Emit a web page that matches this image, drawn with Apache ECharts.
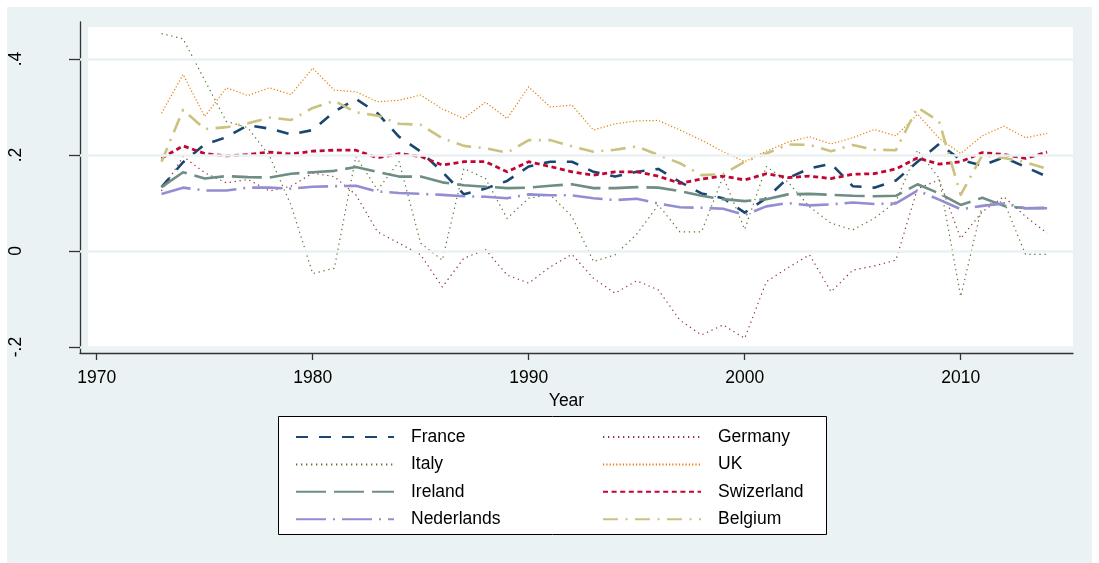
<!DOCTYPE html>
<html><head><meta charset="utf-8">
<script src="https://cdn.jsdelivr.net/npm/echarts@6/dist/echarts.min.js"></script>
<style>html,body{margin:0;padding:0;background:#fff}#c{width:1099px;height:563px}</style>
</head><body><div id="c"></div>
<script>
const years = [1973,1974,1975,1976,1977,1978,1979,1980,1981,1982,1983,1984,1985,1986,1987,1988,1989,1990,1991,1992,1993,1994,1995,1996,1997,1998,1999,2000,2001,2002,2003,2004,2005,2006,2007,2008,2009,2010,2011,2012,2013,2014];

const france = [0.133,0.185,0.222,0.237,0.262,0.255,0.243,0.252,0.29,0.317,0.287,0.238,0.207,0.165,0.118,0.13,0.146,0.176,0.186,0.186,0.165,0.155,0.165,0.171,0.144,0.12,0.11,0.08,0.11,0.152,0.172,0.182,0.135,0.132,0.147,0.186,0.223,0.19,0.178,0.195,0.175,0.155];
const germany = [0.125,0.197,0.163,0.142,0.149,0.125,0.135,0.162,0.155,0.117,0.04,0.016,-0.008,-0.075,-0.015,0.003,-0.05,-0.067,-0.033,-0.007,-0.057,-0.088,-0.062,-0.081,-0.144,-0.175,-0.154,-0.182,-0.064,-0.035,-0.008,-0.085,-0.04,-0.031,-0.019,0.13,0.148,0.026,0.082,0.113,0.072,0.037];
const italy = [0.453,0.442,0.356,0.27,0.257,0.198,0.095,-0.047,-0.036,0.197,0.127,0.186,0.016,-0.019,0.172,0.151,0.068,0.11,0.117,0.072,-0.022,-0.008,0.035,0.096,0.04,0.04,0.155,0.045,0.176,0.144,0.092,0.058,0.044,0.068,0.103,0.21,0.152,-0.095,0.096,0.103,-0.007,-0.007];
const uk = [0.287,0.368,0.28,0.34,0.324,0.34,0.326,0.381,0.335,0.332,0.311,0.314,0.325,0.296,0.276,0.31,0.276,0.342,0.3,0.304,0.252,0.265,0.271,0.272,0.252,0.231,0.207,0.186,0.208,0.227,0.238,0.223,0.236,0.253,0.24,0.285,0.235,0.203,0.24,0.26,0.236,0.245];
const ireland = [0.133,0.164,0.151,0.156,0.154,0.153,0.161,0.164,0.167,0.175,0.165,0.155,0.155,0.143,0.137,0.134,0.131,0.132,0.136,0.139,0.131,0.131,0.133,0.132,0.125,0.115,0.108,0.104,0.108,0.118,0.119,0.117,0.115,0.114,0.115,0.139,0.12,0.096,0.111,0.094,0.089,0.09];
const swizerland = [0.193,0.219,0.203,0.198,0.201,0.206,0.202,0.208,0.21,0.21,0.194,0.203,0.197,0.179,0.186,0.186,0.165,0.186,0.176,0.165,0.158,0.165,0.165,0.156,0.141,0.15,0.156,0.148,0.161,0.153,0.156,0.151,0.16,0.161,0.171,0.194,0.181,0.186,0.205,0.201,0.193,0.206];
const nederlands = [0.119,0.132,0.126,0.126,0.132,0.132,0.13,0.134,0.135,0.136,0.124,0.121,0.119,0.117,0.114,0.113,0.11,0.118,0.116,0.116,0.11,0.106,0.109,0.099,0.091,0.09,0.088,0.075,0.093,0.1,0.095,0.097,0.101,0.098,0.099,0.126,0.107,0.087,0.094,0.099,0.089,0.089];
const belgium = [0.186,0.294,0.254,0.258,0.266,0.278,0.273,0.298,0.313,0.289,0.282,0.265,0.263,0.235,0.219,0.214,0.205,0.231,0.231,0.218,0.207,0.211,0.218,0.2,0.183,0.158,0.16,0.186,0.203,0.222,0.221,0.208,0.221,0.211,0.21,0.299,0.27,0.117,0.2,0.194,0.185,0.171];

const xTicks = [1970,1980,1990,2000,2010];
const yTicks = [-0.2,0,0.2,0.4];
const legendCol1 = ['France','Italy','Ireland','Nederlands'];
const legendCol2 = ['Germany','UK','Swizerland','Belgium'];

const FONT = '"Liberation Sans", Arial, sans-serif';
const BG = '#eaf2f3';

function mk(name, values, color, width, dash) {
  return {
    name, type: 'line', symbol: 'none', z: 3,
    data: years.map((y, i) => [y, values[i]]),
    lineStyle: { color, width, type: dash, cap: 'butt', join: 'round' },
    itemStyle: { color }
  };
}

const series = [
  {
    name: '_grid', type: 'line', data: [], z: 1, silent: true,
    markLine: {
      silent: true, symbol: 'none', label: { show: false }, animation: false,
      lineStyle: { color: BG, width: 2.5, type: 'solid' },
      data: yTicks.map(v => ({ yAxis: v }))
    }
  },
  mk('France', france, '#1a476f', 2.6, [12, 11]),
  mk('Germany', germany, '#90353b', 1.2, [1.3, 3.7]),
  mk('Italy', italy, '#55752f', 1.2, [1.3, 3.7]),
  mk('UK', uk, '#e37e00', 1.2, [1.2, 2.1]),
  mk('Ireland', ireland, '#6e8e84', 2.6, [30, 8]),
  mk('Swizerland', swizerland, '#c10534', 2.8, [5, 3.6]),
  mk('Nederlands', nederlands, '#938dd2', 2.6, [30, 7, 2, 7]),
  mk('Belgium', belgium, '#cac27e', 2.6, [15, 7.5, 2, 7.5])
];

const legendCommon = {
  orient: 'vertical', top: 422, itemWidth: 98, itemHeight: 14, itemGap: 7.4,
  itemStyle: { opacity: 0, borderWidth: 0 },
  textStyle: { fontFamily: FONT, fontSize: 17.5, color: '#000', lineHeight: 20, padding: [0, 0, 0, 12] },
  selectedMode: false
};

const option = {
  animation: false,
  backgroundColor: '#fff',
  textStyle: { fontFamily: FONT },
  graphic: [
    { type: 'rect', z: -10, silent: true, shape: { x: 7, y: 7, width: 1085, height: 556 }, style: { fill: BG } },
    { type: 'rect', z: -9, silent: true, shape: { x: 88, y: 27, width: 985, height: 322 }, style: { fill: '#fff' } },
    { type: 'rect', z: -8, silent: true, shape: { x: 278.5, y: 416.5, width: 548, height: 118 }, style: { fill: '#fff', stroke: '#000', lineWidth: 1 } }
  ],
  grid: { left: 80, right: 26, top: 22, bottom: 210 },
  xAxis: {
    type: 'value', min: 1969.227, max: 2015.199,
    name: 'Year', nameLocation: 'middle', nameGap: 32,
    nameTextStyle: { fontFamily: FONT, fontSize: 17.5, color: '#000', padding: [0, 20, 0, 0] },
    axisLine: { show: true, onZero: false, lineStyle: { color: '#333', width: 1.3 } },
    axisTick: { show: true, customValues: xTicks, length: 7, lineStyle: { color: '#333', width: 1.3 } },
    axisLabel: { customValues: xTicks, fontFamily: FONT, fontSize: 17.5, color: '#000', margin: 16, formatter: v => String(v) },
    splitLine: { show: false }
  },
  yAxis: {
    type: 'value', min: -0.2125, max: 0.4771,
    axisLine: { show: true, onZero: false, lineStyle: { color: '#333', width: 1.3 } },
    axisTick: { show: true, customValues: yTicks, length: 11, lineStyle: { color: '#333', width: 1.3 } },
    axisLabel: {
      customValues: yTicks, rotate: 90, margin: 55, fontFamily: FONT, fontSize: 17.5, color: '#000',
      formatter: v => { const r = Math.round(v * 10) / 10; return r === 0 ? '0' : String(r).replace('0.', '.'); }
    },
    splitLine: { show: false }
  },
  legend: [
    Object.assign({}, legendCommon, { left: 290, data: legendCol1 }),
    Object.assign({}, legendCommon, { left: 597, data: legendCol2 })
  ],
  series
};

const chart = echarts.init(document.getElementById('c'));
chart.setOption(option);
</script>
</body></html>
